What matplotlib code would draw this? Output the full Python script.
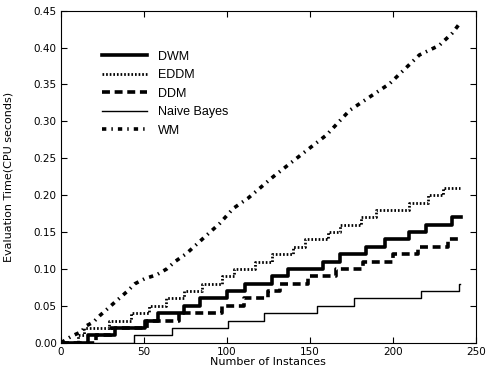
"""
Evaluation time of the drift detectors against number of instances
"""

import matplotlib
matplotlib.use('Agg')
import matplotlib.pyplot as plt

# step positions (instance where time goes up by 0.01 s)
dwm_x = [0, 16.4, 32.5, 50.6, 58.6, 74, 84, 100, 111, 127, 137, 158, 168,
         184, 195, 210, 220, 235.5, 240.8]
dwm_y = [0.00, 0.01, 0.02, 0.03, 0.04, 0.05, 0.06, 0.07, 0.08, 0.09, 0.10,
         0.11, 0.12, 0.13, 0.14, 0.15, 0.16, 0.17, 0.17]

eddm_x = [0, 10, 14, 29, 42, 53, 63, 74, 85, 97, 104, 117, 127, 140, 147,
          161, 168, 181, 190, 210, 221, 230, 240.5]
eddm_y = [0.00, 0.01, 0.02, 0.03, 0.04, 0.05, 0.06, 0.07, 0.08, 0.09, 0.10,
          0.11, 0.12, 0.13, 0.14, 0.15, 0.16, 0.17, 0.18, 0.19, 0.20, 0.21,
          0.21]

ddm_x = [0, 21, 30, 52, 71, 97, 110, 125, 132, 149, 166, 182, 200, 215, 233,
         240.5]
ddm_y = [0.00, 0.01, 0.02, 0.03, 0.04, 0.05, 0.06, 0.07, 0.08, 0.09, 0.10,
         0.11, 0.12, 0.13, 0.14, 0.14]

nb_x = [0, 44, 67, 100.4, 122.3, 154.4, 176.5, 216.9, 240, 240.5]
nb_y = [0.00, 0.01, 0.02, 0.03, 0.04, 0.05, 0.06, 0.07, 0.08, 0.08]

wm_x = [0, 6.4, 12.4, 14.5, 19.5, 23.5, 31.5, 39.6, 44.6, 50.6, 57.6, 63.7,
        68.7, 75.7, 85.7, 95.8, 103.8, 112.8, 127.9, 146, 160, 174, 198, 216,
        228, 236, 240.4]
wm_y = [0.0, 0.009, 0.015, 0.022, 0.028, 0.037, 0.053, 0.069, 0.080, 0.087,
        0.092, 0.100, 0.110, 0.121, 0.1415, 0.162, 0.182, 0.196, 0.225, 0.257,
        0.2815, 0.315, 0.351, 0.390, 0.403, 0.420, 0.433]

x_ticks = [0, 50, 100, 150, 200, 250]
y_ticks = [0.00, 0.05, 0.10, 0.15, 0.20, 0.25, 0.30, 0.35, 0.40, 0.45]


def plot(outfile):
  fig = plt.figure(figsize=(4.88, 3.75), dpi=100)
  ax = fig.add_axes([0.125, 0.086, 0.85, 0.8855])

  ax.plot(dwm_x, dwm_y, drawstyle='steps-post', color='black',
          linewidth=2.6, label='DWM')
  ax.plot(eddm_x, eddm_y, drawstyle='steps-post', color='black',
          linewidth=2.0, linestyle=(0, (0.6, 0.7)), label='EDDM')
  ax.plot(ddm_x, ddm_y, drawstyle='steps-post', color='black',
          linewidth=2.6, linestyle=(0, (2.2, 1.3)), label='DDM')
  ax.plot(nb_x, nb_y, drawstyle='steps-post', color='black',
          linewidth=1.0, label='Naive Bayes')
  ax.plot(wm_x, wm_y, color='black', linewidth=2.6,
          linestyle=(0, (1.2, 1.4, 0.4, 1.4)), label='WM')

  ax.set_xlim(0, 250)
  ax.set_ylim(0, 0.45)
  ax.set_xticks(x_ticks)
  ax.set_yticks(y_ticks)
  ax.set_yticklabels(['%.2f' % v for v in y_ticks])
  ax.tick_params(direction='in', top=True, right=True, length=4,
                 labelsize=7.5, pad=3)
  ax.set_xlabel('Number of Instances', fontsize=8, labelpad=0)
  ax.set_ylabel('Evaluation Time(CPU seconds)', fontsize=8)
  ax.yaxis.set_label_coords(-0.114, 0.5)

  ax.legend(loc='upper left', bbox_to_anchor=(0.098, 0.88), frameon=False,
            borderaxespad=0, borderpad=0, handlelength=3.6,
            handletextpad=0.9, labelspacing=0.52,
            prop={'family': 'Liberation Sans', 'size': 9})

  fig.savefig(outfile, dpi=100)
  plt.close(fig)


if __name__ == "__main__":
  plot('out.png')
